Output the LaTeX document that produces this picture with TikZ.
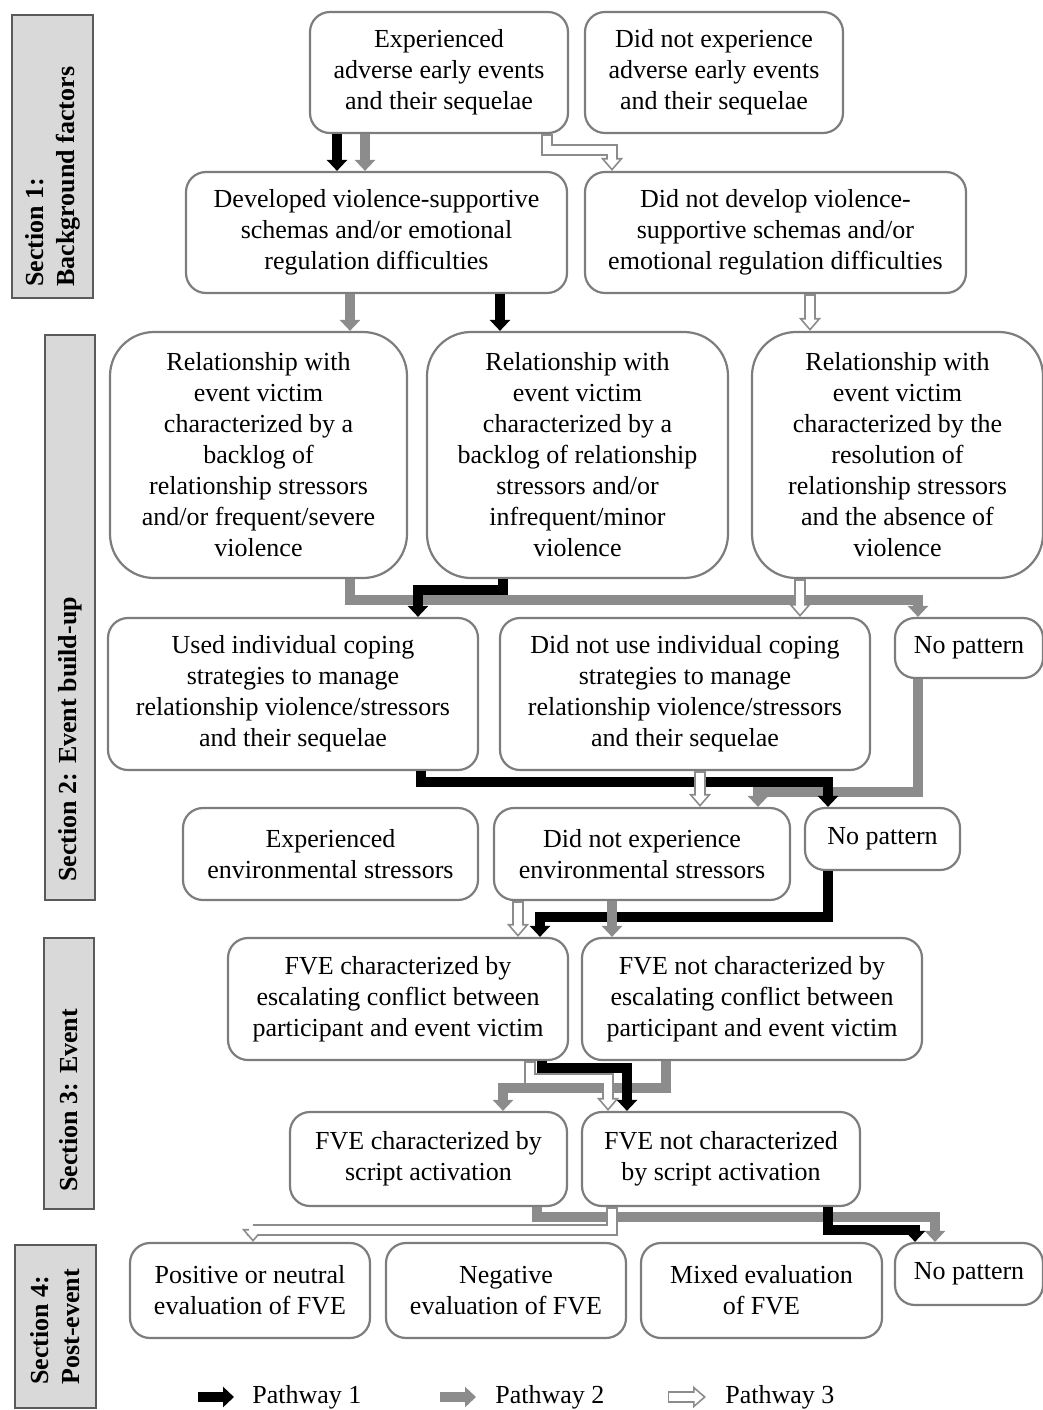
\documentclass[tikz,border=0pt]{standalone}
\usepackage{fontspec}
\setmainfont{Liberation Serif}
\usetikzlibrary{arrows.meta}
\definecolor{bordergray}{RGB}{125,125,125}
\definecolor{pathgray}{RGB}{140,140,140}
\definecolor{secfill}{RGB}{217,217,217}
\definecolor{secborder}{RGB}{90,90,90}
\tikzset{
  box/.style={draw=bordergray, line width=1.1pt, fill=white, rounded corners=10pt, align=center, inner sep=2pt, font=\fontsize{13}{15.5}\selectfont},
  bigbox/.style={rounded corners=22pt},
  secbox/.style={draw=secborder, fill=secfill, line width=1.1pt},
  sectext/.style={rotate=90, align=left, inner sep=0pt, font=\fontsize{13}{15.5}\selectfont\bfseries},
  legtext/.style={anchor=west, inner sep=0pt, font=\fontsize{13}{15.5}\selectfont},
  p1/.style={draw=black, line width=4.6pt, -{Triangle[width=10pt,length=5.5pt]}},
  p2/.style={draw=pathgray, line width=4.6pt, -{Triangle[width=10pt,length=5.5pt]}},
  p3o/.style={draw=pathgray, line width=5.8pt, -{Triangle[width=11pt,length=6.5pt,fill=white,line width=0.8pt]}},
  p3i/.style={draw=white, line width=4pt, shorten >=4.2pt, shorten <=0.7pt},
}
\newcommand\mybox[7][]{%
  \node[box,#1, minimum width={(#5-#3)*0.5pt}, minimum height={(#6-#4)*0.5pt}] (#2) at ({(#3+#5)/2},{(#4+#6)/2}) {#7};}
\newcommand\pthree[1]{\draw[p3o] #1; \draw[p3i] #1;}
\begin{document}
\begin{tikzpicture}[x=0.5pt,y=-0.5pt]
\useasboundingbox (0,0) rectangle (1043,1410);

% section labels
\draw[secbox] (12,15) rectangle (93,298);
\node[sectext, anchor=west] (s1) at (52.5,287) {Section 1:\\Background factors};
\draw[secbox] (45,335) rectangle (95,900);
\node[sectext, anchor=west] (s2) at (70,882) {Section 2: Event build-up};
\draw[secbox] (44,938) rectangle (94,1209);
\node[sectext, anchor=west] (s3) at (69,1192) {Section 3: Event};
\draw[secbox] (15,1245) rectangle (96,1408);
\node[sectext, anchor=west] (s4) at (55.5,1385) {Section 4:\\Post-event};

% boxes
\mybox{A1}{310}{12}{568}{133}{Experienced\\adverse early events\\and their sequelae}
\mybox{A2}{585}{12}{843}{133}{Did not experience\\adverse early events\\and their sequelae}
\mybox{B1}{186}{172}{567}{293}{Developed violence-supportive\\schemas and/or emotional\\regulation difficulties}
\mybox{B2}{585}{172}{966}{293}{Did not develop violence-\\supportive schemas and/or\\emotional regulation difficulties}
\mybox[bigbox]{C1}{110}{332}{407}{578}{Relationship with\\event victim\\characterized by a\\backlog of\\relationship stressors\\and/or frequent/severe\\violence}
\mybox[bigbox]{C2}{427}{332}{728}{578}{Relationship with\\event victim\\characterized by a\\backlog of relationship\\stressors and/or\\infrequent/minor\\violence}
\mybox[bigbox]{C3}{752}{332}{1043}{578}{Relationship with\\event victim\\characterized by the\\resolution of\\relationship stressors\\and the absence of\\violence}
\mybox{D1}{108}{618}{478}{770}{Used individual coping\\strategies to manage\\relationship violence/stressors\\and their sequelae}
\mybox{D2}{500}{618}{870}{770}{Did not use individual coping\\strategies to manage\\relationship violence/stressors\\and their sequelae}
\mybox{D3}{895}{618}{1043}{678}{No pattern}
\mybox{E1}{183}{808}{478}{900}{Experienced\\environmental stressors}
\mybox{E2}{494}{808}{790}{900}{Did not experience\\environmental stressors}
\mybox{E3}{805}{808}{960}{870}{No pattern}
\mybox{F1}{228}{938}{568}{1060}{FVE characterized by\\escalating conflict between\\participant and event victim}
\mybox{F2}{582}{938}{922}{1060}{FVE not characterized by\\escalating conflict between\\participant and event victim}
\mybox{G1}{290}{1112}{567}{1206}{FVE characterized by\\script activation}
\mybox{G2}{582}{1112}{860}{1206}{FVE not characterized\\by script activation}
\mybox{H1}{130}{1243}{370}{1338}{Positive or neutral\\evaluation of FVE}
\mybox{H2}{386}{1243}{626}{1338}{Negative\\evaluation of FVE}
\mybox{H3}{641}{1243}{882}{1338}{Mixed evaluation\\of FVE}
\mybox{H4}{895}{1243}{1043}{1305}{No pattern}

% row 1 -> row 2
\draw[p2] (A1.south -| 365,0) -- (B1.north -| 365,0);
\draw[p1] (A1.south -| 337,0) -- (B1.north -| 337,0);
\pthree{(A1.south -| 547,0) |- (612,150) -- (B2.north -| 612,0)}

% row 2 -> row 3
\draw[p2] (B1.south -| 350,0) -- (C1.north -| 350,0);
\draw[p1] (B1.south -| 500,0) -- (C2.north -| 500,0);
\pthree{(B2.south -| 810,0) -- (C3.north -| 810,0)}

% row 3 -> row 4
\draw[p2] (C1.south -| 350,0) |- (918,600) -- (D3.north -| 918,0);
\draw[p1] (C2.south -| 503,0) |- (418,590) -- (D1.north -| 418,0);
\pthree{(C3.south -| 800,0) -- (D2.north -| 800,0)}

% row 4 -> row 5
\draw[p2] (D3.south -| 918,0) |- (758,792) -- (E2.north -| 758,0);
\draw[p1] (D1.south -| 421,0) |- (828,782) -- (E3.north -| 828,0);
\pthree{(D2.south -| 700,0) -- (E2.north -| 700,0)}

% row 5 -> row 6
\draw[p1] (E3.south -| 828,0) |- (540,917) -- (F1.north -| 540,0);
\draw[p2] (E2.south -| 612,0) -- (F2.north -| 612,0);
\pthree{(E2.south -| 518,0) -- (F1.north -| 518,0)}

% row 6 -> row 7
\draw[p2] (F2.south -| 666,0) |- (503,1088) -- (G1.north -| 503,0);
\draw[p1] (F1.south -| 542,0) |- (627,1068) -- (G2.north -| 627,0);
\pthree{(F1.south -| 530,0) |- (608,1079) -- (G2.north -| 608,0)}

% row 7 -> row 8
\draw[p2] (G1.south -| 537,0) |- (935,1217) -- (H4.north -| 935,0);
\draw[p1] (G2.south -| 828,0) |- (915,1230) -- (H4.north -| 915,0);
\pthree{(G2.south -| 612,0) |- (253,1230) -- (H1.north -| 253,0)}

% legend
\coordinate (l1a) at (198,1397); \coordinate (l1b) at (234,1397);
\coordinate (l2a) at (440,1397); \coordinate (l2b) at (476,1397);
\coordinate (l3a) at (668,1397); \coordinate (l3b) at (706,1397);
\draw[p1] (l1a) -- (l1b);
\draw[p2] (l2a) -- (l2b);
\pthree{(l3a) -- (l3b)}
\node[legtext] (t1) at (252,1397) {Pathway 1};
\node[legtext] (t2) at (495,1397) {Pathway 2};
\node[legtext] (t3) at (725,1397) {Pathway 3};
\end{tikzpicture}
\end{document}
